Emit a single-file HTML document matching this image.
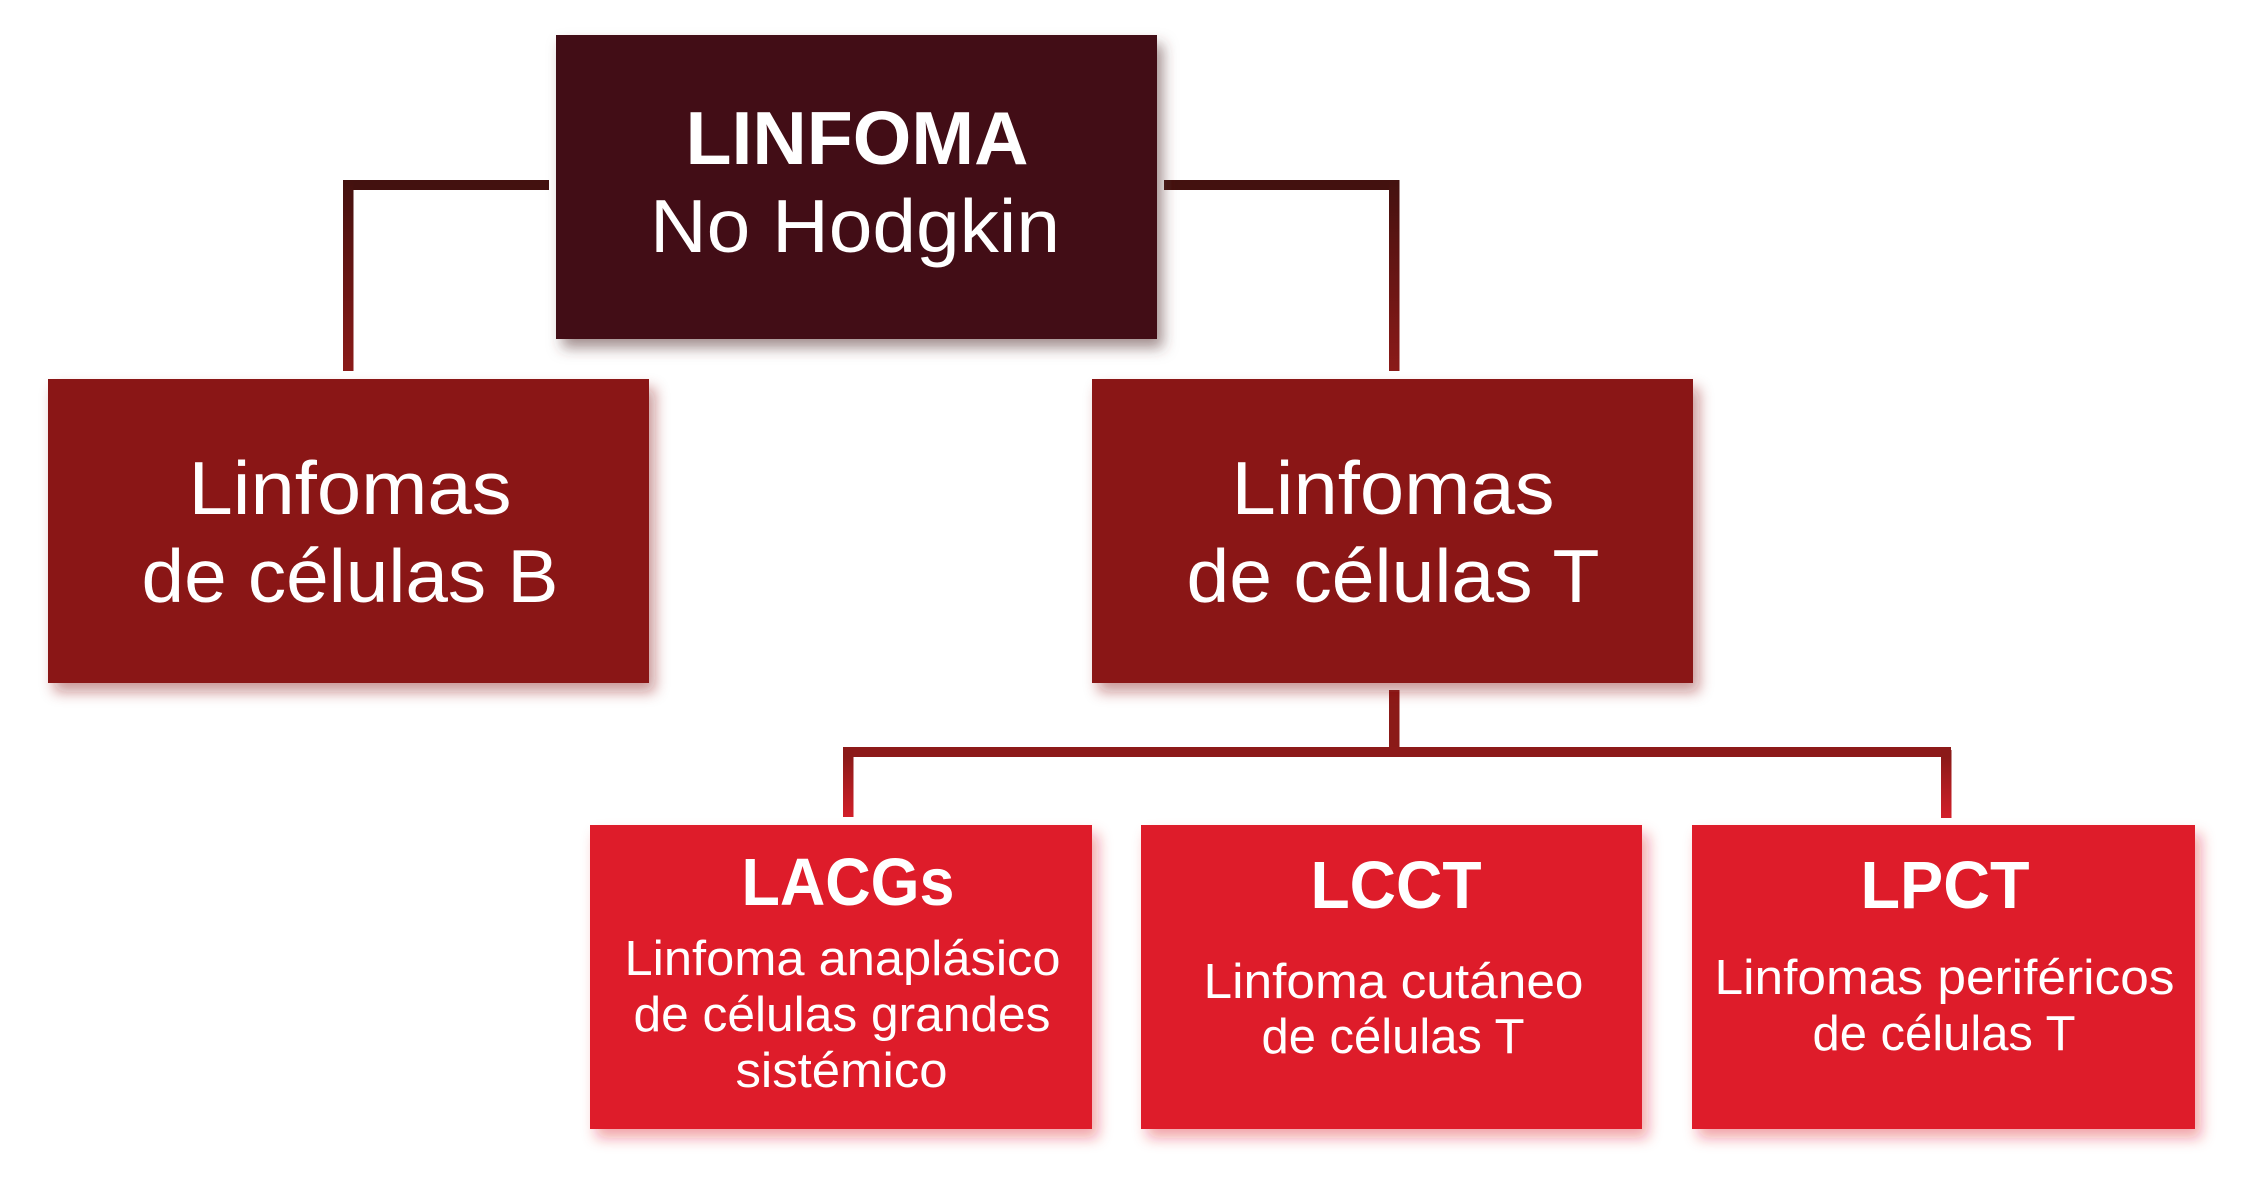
<!DOCTYPE html>
<html>
<head>
<meta charset="utf-8">
<style>
  html, body { margin: 0; padding: 0; background: #ffffff; }
  body { width: 2252px; height: 1196px; overflow: hidden; }
  svg { display: block; }
  text { font-family: "Liberation Sans", "DejaVu Sans", sans-serif; fill: #ffffff; }
</style>
</head>
<body>
<svg width="2252" height="1196" viewBox="0 0 2252 1196" xmlns="http://www.w3.org/2000/svg">
  <defs>
    <filter id="shDark" x="-10%" y="-10%" width="125%" height="130%">
      <feDropShadow dx="6" dy="9" stdDeviation="7" flood-color="#5a3535" flood-opacity="0.55"/>
    </filter>
    <filter id="shMid" x="-10%" y="-10%" width="125%" height="130%">
      <feDropShadow dx="6" dy="9" stdDeviation="7" flood-color="#8a1916" flood-opacity="0.45"/>
    </filter>
    <filter id="shRed" x="-10%" y="-10%" width="125%" height="130%">
      <feDropShadow dx="6" dy="9" stdDeviation="7" flood-color="#de1e2c" flood-opacity="0.4"/>
    </filter>
    <linearGradient id="gTop" gradientUnits="userSpaceOnUse" x1="0" y1="180" x2="0" y2="371">
      <stop offset="0" stop-color="#43110f"/>
      <stop offset="1" stop-color="#8b1a18"/>
    </linearGradient>
    <linearGradient id="gBot" gradientUnits="userSpaceOnUse" x1="0" y1="757" x2="0" y2="818">
      <stop offset="0" stop-color="#8b1a18"/>
      <stop offset="1" stop-color="#d31f2a"/>
    </linearGradient>
  </defs>

  <!-- Upper connectors -->
  <rect x="343" y="180" width="206" height="10" fill="#43110f"/>
  <rect x="343" y="180" width="10.5" height="191" fill="url(#gTop)"/>
  <rect x="1164" y="180" width="235" height="10" fill="#43110f"/>
  <rect x="1389" y="180" width="10.5" height="191" fill="url(#gTop)"/>

  <!-- Lower connectors -->
  <rect x="1389" y="690" width="10.5" height="60" fill="#8b1a18"/>
  <rect x="843" y="747" width="1108" height="10" fill="#8d1a19"/>
  <rect x="843" y="750" width="10.5" height="67" fill="url(#gBot)"/>
  <rect x="1941" y="750" width="10.5" height="68" fill="url(#gBot)"/>

  <!-- Top box -->
  <rect x="556" y="35" width="601" height="304" fill="#431112" filter="url(#shDark)"/>
  <text x="857" y="164" font-size="75" font-weight="bold" text-anchor="middle" textLength="343" lengthAdjust="spacingAndGlyphs">LINFOMA</text>
  <text x="855" y="252" font-size="75" text-anchor="middle" textLength="410" lengthAdjust="spacingAndGlyphs">No Hodgkin</text>

  <!-- B box -->
  <rect x="48" y="379" width="601" height="304" fill="#8a1916" filter="url(#shMid)"/>
  <text x="350" y="514" font-size="75" text-anchor="middle" textLength="323" lengthAdjust="spacingAndGlyphs">Linfomas</text>
  <text x="350" y="602" font-size="75" text-anchor="middle" textLength="417" lengthAdjust="spacingAndGlyphs">de células B</text>

  <!-- T box -->
  <rect x="1092" y="379" width="601" height="304" fill="#8a1916" filter="url(#shMid)"/>
  <text x="1393" y="514" font-size="75" text-anchor="middle" textLength="323" lengthAdjust="spacingAndGlyphs">Linfomas</text>
  <text x="1393" y="602" font-size="75" text-anchor="middle" textLength="413" lengthAdjust="spacingAndGlyphs">de células T</text>

  <!-- LACGs box -->
  <rect x="590" y="825" width="502" height="304" fill="#de1e2c" filter="url(#shRed)"/>
  <text x="848" y="905" font-size="67" font-weight="bold" text-anchor="middle" textLength="213" lengthAdjust="spacingAndGlyphs">LACGs</text>
  <text x="842.5" y="975" font-size="49" text-anchor="middle" textLength="436" lengthAdjust="spacingAndGlyphs">Linfoma anaplásico</text>
  <text x="842" y="1031" font-size="49" text-anchor="middle" textLength="417" lengthAdjust="spacingAndGlyphs">de células grandes</text>
  <text x="841.5" y="1087" font-size="49" text-anchor="middle" textLength="212" lengthAdjust="spacingAndGlyphs">sistémico</text>

  <!-- LCCT box -->
  <rect x="1141" y="825" width="501" height="304" fill="#de1e2c" filter="url(#shRed)"/>
  <text x="1396" y="908" font-size="67" font-weight="bold" text-anchor="middle" textLength="171" lengthAdjust="spacingAndGlyphs">LCCT</text>
  <text x="1393.5" y="998" font-size="49" text-anchor="middle" textLength="380" lengthAdjust="spacingAndGlyphs">Linfoma cutáneo</text>
  <text x="1393" y="1053" font-size="49" text-anchor="middle" textLength="263" lengthAdjust="spacingAndGlyphs">de células T</text>

  <!-- LPCT box -->
  <rect x="1692" y="825" width="503" height="304" fill="#de1e2c" filter="url(#shRed)"/>
  <text x="1945" y="908" font-size="67" font-weight="bold" text-anchor="middle" textLength="169" lengthAdjust="spacingAndGlyphs">LPCT</text>
  <text x="1944.5" y="994" font-size="49" text-anchor="middle" textLength="460" lengthAdjust="spacingAndGlyphs">Linfomas periféricos</text>
  <text x="1944" y="1050" font-size="49" text-anchor="middle" textLength="263" lengthAdjust="spacingAndGlyphs">de células T</text>
</svg>
</body>
</html>
